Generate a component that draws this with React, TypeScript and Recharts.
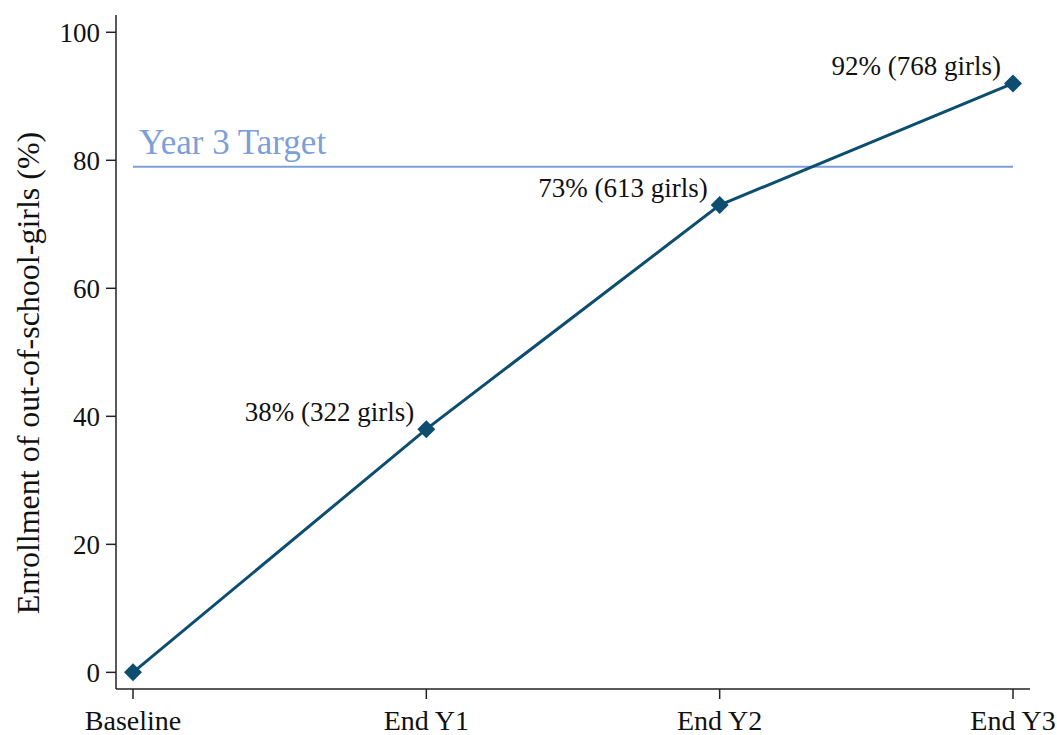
import { LineChart, Line, XAxis, YAxis, ReferenceLine } from "recharts";

const categories = ["Baseline", "End Y1", "End Y2", "End Y3"];
const enrollment = [0, 38, 73, 92];
const girls = [0, 322, 613, 768];
const yTicks = [0, 20, 40, 60, 80, 100];
const target = 79;

const LINE_COLOR = "#0d4d70";
const TARGET_COLOR = "#7b9fd6";
const FONT = "'Liberation Serif', 'DejaVu Serif', serif";

const data = categories.map((c, i) => ({
  cat: c,
  value: enrollment[i],
  label: i === 0 ? "" : `${enrollment[i]}% (${girls[i]} girls)`,
}));

const Diamond = (props: any) => {
  const { cx, cy } = props;
  if (cx == null || cy == null) return null;
  const r = 9;
  return (
    <polygon
      points={`${cx},${cy - r} ${cx + r},${cy} ${cx},${cy + r} ${cx - r},${cy}`}
      fill={LINE_COLOR}
    />
  );
};

const PointLabel = (props: any) => {
  const { x, y, index } = props;
  const text = data[index]?.label;
  if (!text) return null;
  return (
    <text x={x - 12} y={y - 8} textAnchor="end" fontSize={27} fontFamily={FONT} fill="#111">
      {text}
    </text>
  );
};

const TargetLabel = (props: any) => {
  const vb = props.viewBox || {};
  return (
    <text x={vb.x + 6} y={vb.y - 13} fontSize={35} fontFamily={FONT} fill={TARGET_COLOR}>
      Year 3 Target
    </text>
  );
};

const YLabel = (props: any) => {
  const vb = props.viewBox || {};
  const cx = 28;
  const cy = vb.y + vb.height / 2 + 21;
  return (
    <text
      x={cx}
      y={cy}
      transform={`rotate(-90, ${cx}, ${cy})`}
      textAnchor="middle"
      dominantBaseline="central"
      fontSize={32}
      fontFamily={FONT}
      fill="#111"
    >
      Enrollment of out-of-school-girls (%)
    </text>
  );
};

export default function App() {
  return (
    <div style={{ position: "fixed", top: 0, left: 0, background: "#fff" }}>
      <LineChart
        width={1057}
        height={735}
        data={data}
        margin={{ top: 15, right: 27, bottom: 0, left: 0 }}
      >
        <XAxis
          dataKey="cat"
          padding={{ left: 17, right: 17 }}
          height={46}
          tickSize={10}
          tickMargin={11}
          stroke="#222"
          strokeWidth={1.5}
          tick={{ fill: "#111", fontSize: 28, fontFamily: FONT }}
          interval={0}
        />
        <YAxis
          domain={[-2.6, 102.7]}
          ticks={yTicks}
          width={116}
          tickSize={10}
          tickMargin={6}
          stroke="#222"
          strokeWidth={1.5}
          tick={{ fill: "#111", fontSize: 27, fontFamily: FONT }}
          label={<YLabel />}
        />
        <ReferenceLine
          segment={[
            { x: "Baseline", y: target },
            { x: "End Y3", y: target },
          ]}
          stroke={TARGET_COLOR}
          strokeWidth={2}
          label={<TargetLabel />}
        />
        <Line
          dataKey="value"
          stroke={LINE_COLOR}
          strokeWidth={3}
          dot={<Diamond />}
          activeDot={false}
          label={<PointLabel />}
          isAnimationActive={false}
        />
      </LineChart>
    </div>
  );
}
